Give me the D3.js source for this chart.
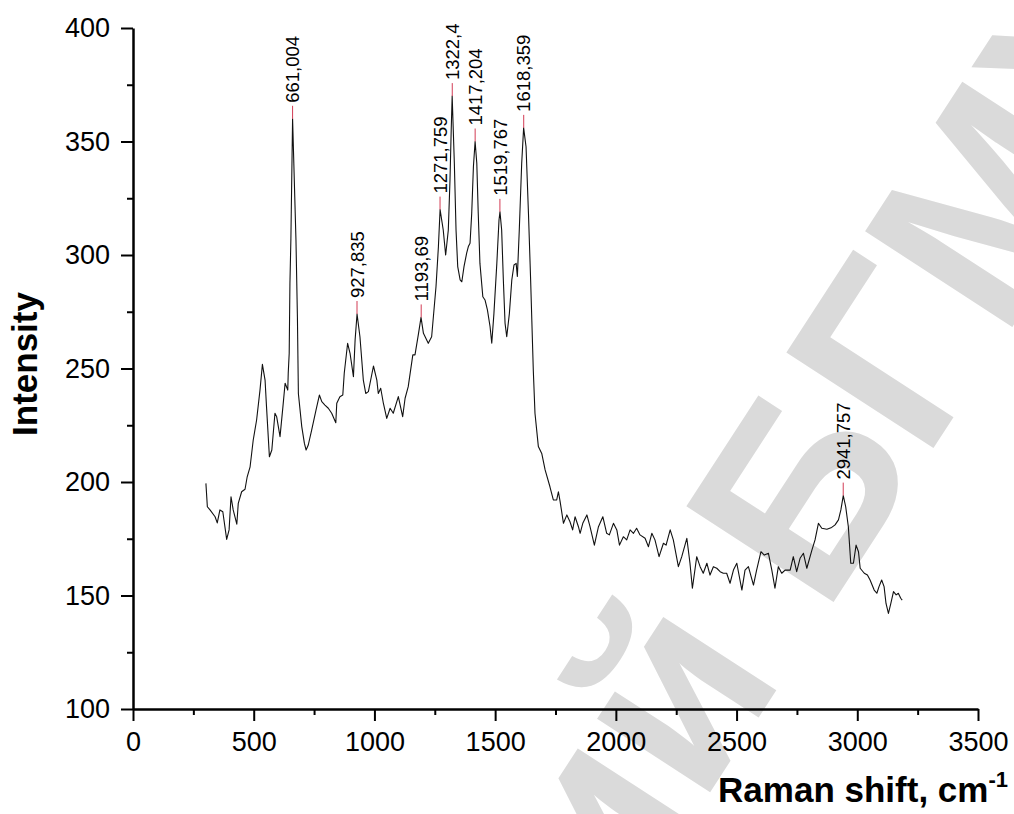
<!DOCTYPE html>
<html>
<head>
<meta charset="utf-8" />
<title>Raman spectrum</title>
<script src="https://cdn.jsdelivr.net/npm/d3@7"></script>
<style>
html, body { margin:0; padding:0; background:#ffffff; }
svg { display:block; font-family:'Liberation Sans', Arial, sans-serif; }
</style>
</head>
<body>
<script>

//=======================================
// data
//=======================================

const ramanShift = [
  302,308,319,340,349,360,372,388,398,406,415,430,436,450,464,473,485,498,512,526,
  536,547,553,565,575,588,595,609,621,630,641,643,647,650,654,661,675,681,685,699,
  710,717,726,740,758,772,782,795,809,823,840,844,857,869,875,889,899,913,920,928,
  940,954,964,975,996,1010,1016,1026,1037,1051,1065,1078,1099,1117,1127,1140,1159,1168,1182,1193,
  1203,1210,1223,1237,1255,1265,1272,1285,1295,1306,1313,1318,1322,1331,1338,1345,1355,1362,1371,1382,
  1389,1396,1403,1410,1417,1424,1430,1437,1449,1458,1468,1479,1486,1495,1507,1516,1520,1527,1534,1541,
  1548,1559,1569,1578,1587,1592,1600,1610,1618,1628,1638,1647,1658,1665,1679,1693,1707,1727,1741,1755,
  1762,1769,1783,1797,1810,1821,1831,1845,1852,1863,1880,1893,1911,1928,1946,1962,1973,1990,2004,2015,
  2031,2045,2059,2073,2086,2100,2121,2135,2149,2162,2179,2197,2208,2225,2238,2259,2273,2294,2307,2317,
  2335,2349,2362,2377,2390,2404,2418,2432,2445,2459,2473,2487,2501,2522,2535,2549,2570,2583,2601,2615,
  2632,2646,2659,2673,2687,2701,2722,2735,2749,2763,2777,2791,2812,2825,2839,2853,2874,2894,2908,2922,
  2932,2942,2952,2963,2973,2984,2995,3005,3012,3029,3042,3053,3070,3081,3090,3101,3111,3119,3129,3139,
  3150,3161,3170,3180,3186
];

const intensity = [
  199.4,189.1,187.7,184.7,182.0,187.7,186.9,174.7,178.9,193.5,187.7,181.4,190.6,195.7,196.8,202.3,206.7,218.5,227.3,240.5,
  251.8,244.9,233.2,211.1,214.1,230.3,228.8,220.0,233.2,243.5,240.5,248.0,256.7,287.6,307.0,360.0,306.6,272.8,239.0,224.4,
  217.0,214.1,216.3,222.9,231.7,238.3,235.4,233.9,232.5,230.3,226.1,234.7,237.6,238.3,247.9,261.1,256.7,246.4,262.6,274.0,
  264.0,244.9,239.0,239.8,251.1,244.9,239.0,241.3,234.7,228.0,232.5,230.3,237.6,228.8,236.9,242.0,256.0,256.0,265.0,272.5,
  265.5,264.0,261.1,264.0,286.0,303.6,320.0,311.0,300.0,311.0,333.0,355.0,370.0,340.4,311.0,294.9,289.0,288.2,294.9,300.8,
  303.7,305.2,318.4,338.9,350.0,340.4,318.4,296.3,281.6,280.2,275.8,268.4,261.1,274.3,296.3,315.4,319.0,311.0,289.0,270.0,
  264.0,274.3,289.0,295.6,296.3,290.5,311.0,340.4,356.0,347.7,318.4,289.0,249.3,230.3,215.6,212.6,205.3,197.9,192.1,192.1,
  195.7,191.5,181.8,185.5,182.5,178.9,184.7,180.3,177.4,181.8,185.5,180.3,172.2,180.3,184.7,177.4,176.7,181.8,178.9,172.2,
  175.9,174.5,178.9,177.4,179.6,176.7,175.2,171.5,177.4,174.5,167.1,173.0,172.2,178.9,174.5,162.7,167.1,175.2,164.2,153.2,
  167.1,162.7,159.8,164.2,159.0,162.7,162.0,160.5,159.8,159.8,155.4,161.2,164.2,152.4,161.2,162.7,154.6,161.2,169.3,167.8,
  168.6,161.2,153.2,162.7,159.8,161.2,161.2,167.1,160.5,166.4,168.6,162.0,170.0,174.5,181.8,179.6,179.2,180.0,181.1,183.3,
  187.7,194.0,189.1,180.3,164.2,164.2,172.2,169.3,162.0,159.8,159.0,156.8,152.4,151.0,153.9,156.8,153.9,146.5,142.1,146.5,
  151.7,150.3,151.0,148.8,148.0
];

// labelled peaks
const peakShift     = [661.004, 927.835, 1193.69, 1271.759, 1322.4, 1417.204, 1519.767, 1618.359, 2941.757];
const peakIntensity = [360, 274, 272.5, 320, 370, 350, 319, 356, 194];
const peakLabels    = ['661,004','927,835','1193,69','1271,759','1322,4','1417,204','1519,767','1618,359','2941,757'];

const xTicks = [0,500,1000,1500,2000,2500,3000,3500];
const yTicks = [100,150,200,250,300,350,400];
const xMinor = [250,750,1250,1750,2250,2750,3250];
const yMinor = [125,175,225,275,325,375];


//=======================================
// chart
//=======================================

let width = 1014,
    height = 814,
    margin = {top:28, left:133, right:36, bottom:105},

    x = d3.scaleLinear().domain([0,3500]).range([margin.left, width-margin.right]),
    y = d3.scaleLinear().domain([100,400]).range([height-margin.bottom, margin.top]),
    fmt = d3.format('d');

let svg = d3.select('body').append('svg')
  .attr('width', width)
  .attr('height', height);

svg.append('rect').attr('width',width).attr('height',height).attr('fill','#fff');

// watermark
svg.append('g').attr('class','watermark')
  .append('text')
    .attr('transform','translate(1205,30) rotate(-57)')
    .attr('text-anchor','end')
    .attr('font-size',255)
    .attr('font-weight','bold')
    .attr('fill','#dadada')
    .text('Репозиторий БГМУ');

// axes
let xAxis = d3.axisBottom(x).tickValues(xTicks).tickFormat(fmt).tickSize(12).tickPadding(11).tickSizeOuter(0),
    yAxis = d3.axisLeft(y).tickValues(yTicks).tickFormat(fmt).tickSize(12).tickPadding(11).tickSizeOuter(0);

svg.append('g').attr('class','x-minor')
  .attr('transform','translate(0,'+y(100)+')')
  .call(d3.axisBottom(x).tickValues(xMinor).tickSize(6).tickFormat(''))
  .call(g=>g.select('.domain').remove())
  .call(g=>g.selectAll('line').attr('stroke-width',2));

svg.append('g').attr('class','y-minor')
  .attr('transform','translate('+x(0)+',0)')
  .call(d3.axisLeft(y).tickValues(yMinor).tickSize(6).tickFormat(''))
  .call(g=>g.select('.domain').remove())
  .call(g=>g.selectAll('line').attr('stroke-width',2));

svg.append('g').attr('class','x-axis')
  .attr('transform','translate(0,'+y(100)+')')
  .call(xAxis)
  .call(g=>g.select('.domain').attr('stroke-width',2.5))
  .call(g=>g.selectAll('line').attr('stroke-width',2))
  .call(g=>g.selectAll('text').attr('font-size',27).attr('font-family','Liberation Sans, Arial, sans-serif').attr('fill','#000'));

svg.append('g').attr('class','y-axis')
  .attr('transform','translate('+x(0)+',0)')
  .call(yAxis)
  .call(g=>g.select('.domain').attr('stroke-width',2.5))
  .call(g=>g.selectAll('line').attr('stroke-width',2))
  .call(g=>g.selectAll('text').attr('font-size',27).attr('font-family','Liberation Sans, Arial, sans-serif').attr('fill','#000'));

// spectrum
let series = ramanShift.map((d,i)=>[d, intensity[i]]);

svg.append('path')
  .attr('d', d3.line().x(d=>x(d[0])).y(d=>y(d[1]))(series))
  .attr('fill','none')
  .attr('stroke','#111')
  .attr('stroke-width',1.1)
  .attr('stroke-linejoin','round');

// peak markers + labels
let peaks = peakShift.map((d,i)=>({x:d, y:peakIntensity[i], label:peakLabels[i]}));

svg.append('g').attr('class','peaks')
  .selectAll('g').data(peaks)
  .enter()
    .append('g')
      .attr('transform', d=>'translate('+[x(d.x), y(d.y)]+')')
      .call(sel=>{
        sel.append('line')
          .attr('y1',0).attr('y2',-13)
          .attr('stroke','#d23c55')
          .attr('stroke-width',1);
        sel.append('text')
          .attr('transform','translate(0,-16) rotate(-90)')
          .attr('dy','0.36em')
          .attr('font-size',18.5)
          .attr('fill','#000')
          .text(d=>d.label);
      });

// axis titles
svg.append('text')
  .attr('transform','translate(37,364) rotate(-90)')
  .attr('text-anchor','middle')
  .attr('font-size',35)
  .attr('font-weight','bold')
  .text('Intensity');

svg.append('text')
  .attr('x',1008).attr('y',802)
  .attr('text-anchor','end')
  .attr('font-size',35)
  .attr('font-weight','bold')
  .call(t=>{
    t.append('tspan').text('Raman shift, cm');
    t.append('tspan').attr('font-size',22).attr('dy',-15).text('-1');
  });

</script>
</body>
</html>
